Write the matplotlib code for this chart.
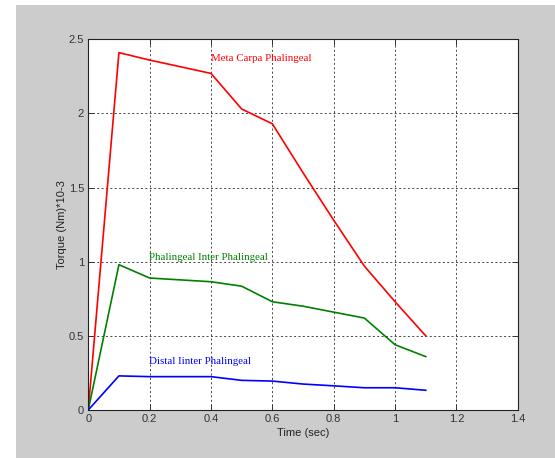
import matplotlib.pyplot as plt
from matplotlib.patches import Rectangle

# Time samples (sec)
time = [0, 0.1, 0.2, 0.4, 0.5, 0.6, 0.7, 0.8, 0.9, 1.0, 1.1]

# Torque (Nm)*10^-3 for each joint
meta_carpa = [0, 2.41, 2.36, 2.27, 2.03, 1.93, 1.60, 1.28, 0.97, 0.73, 0.50]
phal_inter = [0, 0.98, 0.89, 0.865, 0.835, 0.73, 0.70, 0.66, 0.62, 0.44, 0.36]
distal_inter = [0, 0.23, 0.225, 0.225, 0.20, 0.195, 0.175, 0.163, 0.15, 0.15, 0.133]

x_ticks = [0, 0.2, 0.4, 0.6, 0.8, 1, 1.2, 1.4]
y_ticks = [0, 0.5, 1, 1.5, 2, 2.5]

fig = plt.figure(figsize=(5.55, 4.58), dpi=100, facecolor="#cccccc")
# white strips at top and left, like the screenshot
fig.patches.append(Rectangle((0, 1 - 5 / 458), 1, 5 / 458, transform=fig.transFigure,
                             facecolor="white", edgecolor="none", zorder=-1))
fig.patches.append(Rectangle((0, 0), 16 / 555, 1, transform=fig.transFigure,
                             facecolor="white", edgecolor="none", zorder=-1))

ax = fig.add_axes([0.159, 0.1048, 0.774, 0.8094])
ax.set_facecolor("white")

ax.plot(time, meta_carpa, color="#ff0000", lw=1.2)
ax.plot(time, phal_inter, color="#008000", lw=1.2)
ax.plot(time, distal_inter, color="#0000ff", lw=1.2)

ax.text(0.4, 2.37, "Meta Carpa Phalingeal", color="#ff0000",
        family="Liberation Serif", fontsize=7.8, va="center")
ax.text(0.198, 1.027, "Phalingeal Inter Phalingeal", color="#008000",
        family="Liberation Serif", fontsize=7.8, va="center")
ax.text(0.198, 0.326, "Distal Iinter Phalingeal", color="#0000ff",
        family="Liberation Serif", fontsize=7.8, va="center")

ax.set_xlim(0, 1.4)
ax.set_ylim(0, 2.5)
ax.set_xticks(x_ticks)
ax.set_xticklabels(["0", "0.2", "0.4", "0.6", "0.8", "1", "1.2", "1.4"])
ax.set_yticks(y_ticks)
ax.set_yticklabels(["0", "0.5", "1", "1.5", "2", "2.5"])
ax.grid(True, color="#444444", linestyle=(0, (2, 2.5)), linewidth=0.7)
ax.tick_params(direction="in", top=True, right=True, labelsize=8,
               length=4, width=0.7, colors="#333333", pad=3)
for lab in ax.get_xticklabels() + ax.get_yticklabels():
    lab.set_family("Liberation Sans")
for s in ax.spines.values():
    s.set_color("#222222")
    s.set_linewidth(0.8)

ax.set_xlabel("Time (sec)", family="Liberation Sans", fontsize=8, labelpad=3,
              color="#222222")
ax.set_ylabel("Torque (Nm)*10-3", family="Liberation Sans", fontsize=8, labelpad=1,
              color="#222222")

fig.savefig("out.png", dpi=100, facecolor=fig.get_facecolor())
